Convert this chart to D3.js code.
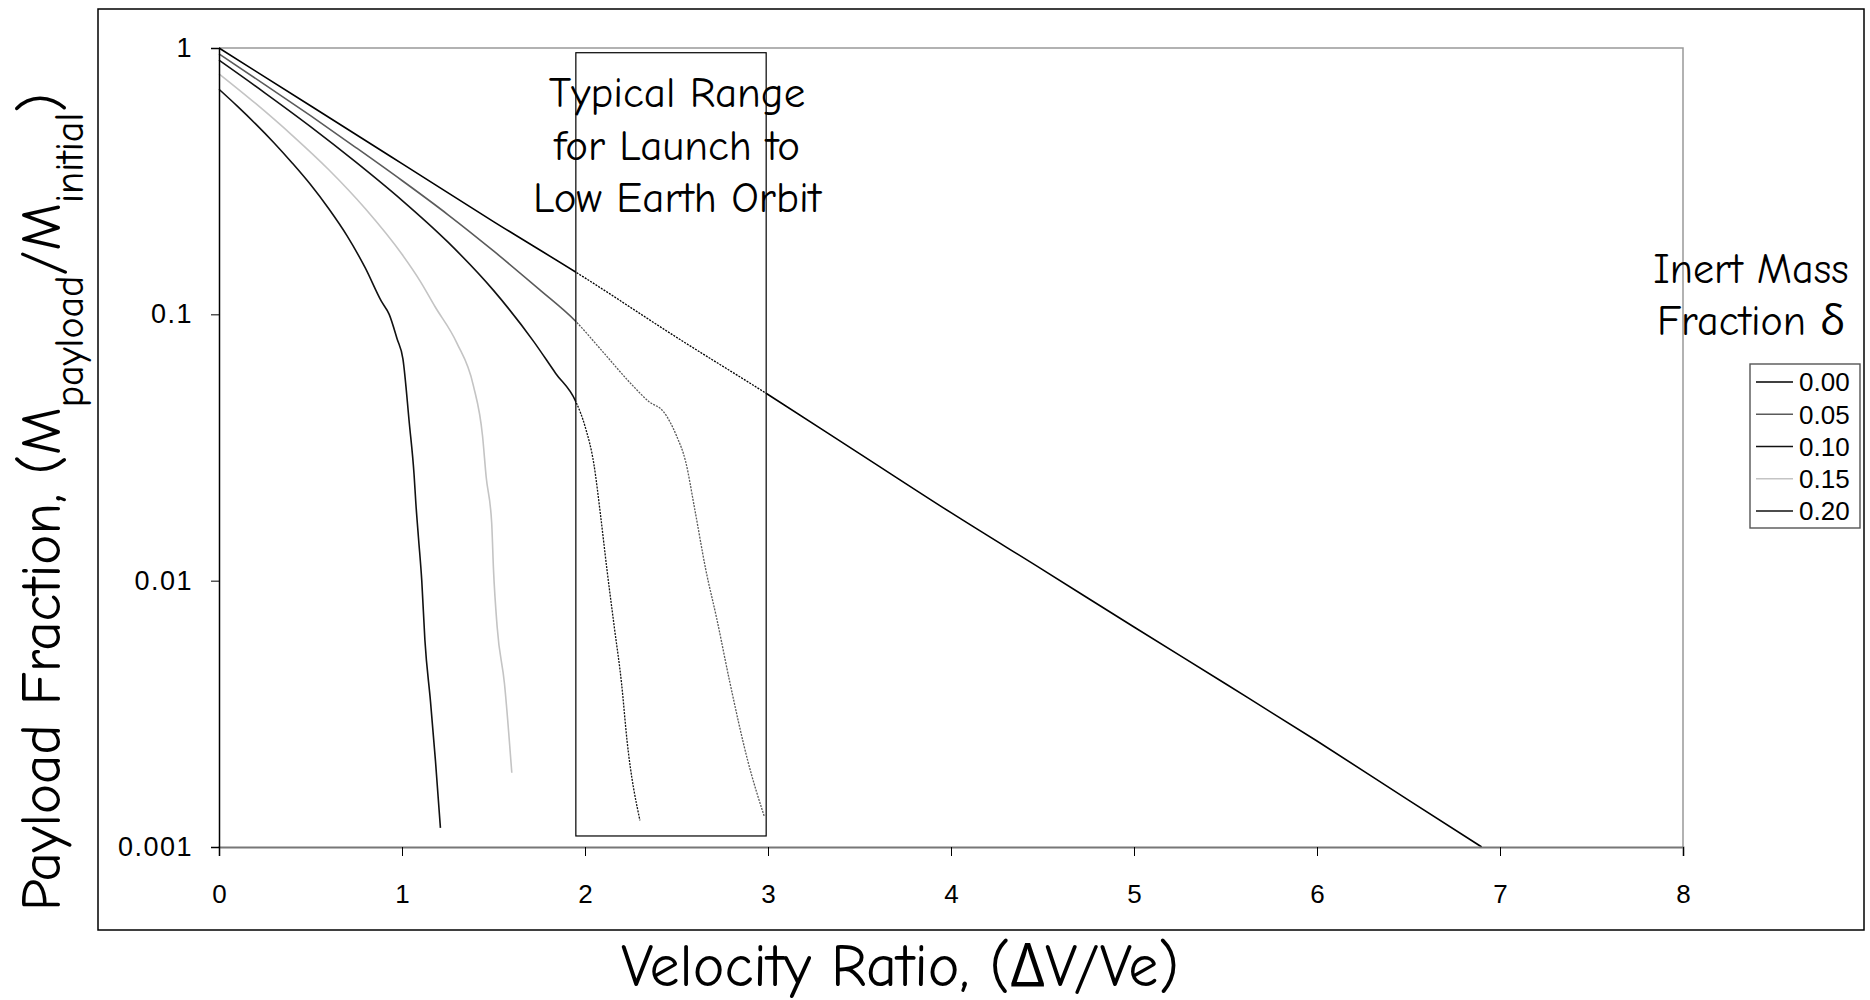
<!DOCTYPE html>
<html>
<head>
<meta charset="utf-8">
<script src="https://cdn.jsdelivr.net/npm/d3@7"></script>
<style>
  body { margin: 0; background: #fff; }
  svg { display: block; }
</style>
</head>
<body>
<svg id="chart" width="1870" height="1000"></svg>
<script>
// series: velocity ratio (x) and payload fraction (y)
const x000 = [0, 0.5, 1, 1.5, 2, 2.5, 3, 3.5, 4, 4.5, 5, 5.5, 6, 6.5, 6.9];
const y000 = [1, 0.607, 0.368, 0.223, 0.137, 0.082, 0.050, 0.030, 0.018, 0.011, 0.0067, 0.0041, 0.0025, 0.0015, 0.001];

const x005 = [0, 0.25, 0.5, 0.75, 1, 1.25, 1.5, 1.75, 1.95, 2.1, 2.25, 2.35, 2.43, 2.5, 2.55, 2.6, 2.66, 2.72, 2.79, 2.89, 2.98];
const y005 = [0.95, 0.729, 0.557, 0.422, 0.318, 0.237, 0.173, 0.124, 0.094, 0.072, 0.055, 0.047, 0.043, 0.035, 0.028, 0.0185, 0.011, 0.0072, 0.0042, 0.0021, 0.0013];

const x010 = [0, 0.25, 0.5, 0.75, 1, 1.25, 1.5, 1.72, 1.84, 1.95, 2.0, 2.05, 2.085, 2.12, 2.16, 2.2, 2.23, 2.3];
const y010 = [0.9, 0.679, 0.507, 0.372, 0.268, 0.187, 0.123, 0.079, 0.060, 0.047, 0.038, 0.027, 0.0176, 0.011, 0.0067, 0.0041, 0.0025, 0.00126];

const x015 = [0, 0.2, 0.4, 0.6, 0.8, 1.0, 1.1, 1.18, 1.3, 1.39, 1.44, 1.46, 1.49, 1.5, 1.52, 1.56, 1.6];
const y015 = [0.8, 0.619, 0.470, 0.349, 0.249, 0.168, 0.133, 0.107, 0.078, 0.054, 0.035, 0.0245, 0.0165, 0.011, 0.0067, 0.0041, 0.0019];

const x020 = [0, 0.1, 0.2, 0.3, 0.4, 0.5, 0.6, 0.7, 0.8, 0.887, 0.93, 0.973, 1.005, 1.04, 1.066, 1.076, 1.09, 1.108, 1.125, 1.156, 1.183, 1.21];
const y020 = [0.70, 0.605, 0.519, 0.441, 0.370, 0.307, 0.249, 0.197, 0.149, 0.112, 0.100, 0.081, 0.068, 0.039, 0.025, 0.0194, 0.0145, 0.010, 0.006, 0.0035, 0.0021, 0.00118];

const legendLabels = ["0.00", "0.05", "0.10", "0.15", "0.20"];
const seriesColors = ["#000", "#5a5a5a", "#111", "#c4c4c4", "#111"];
const xTicks = [0, 1, 2, 3, 4, 5, 6, 7, 8];
const yTicks = [1, 0.1, 0.01, 0.001];
const rangeBox = { x: [1.95, 2.99], y: [0.96, 0.0011] };
const boxText = ["Typical Range", "for Launch to", "Low Earth Orbit"];

const seriesX = [x000, x005, x010, x015, x020];
const seriesY = [y000, y005, y010, y015, y020];

const comic = "'Comic Sans MS', 'Comic Neue', 'Open Sans', sans-serif";
const arial = "'Liberation Sans', Arial, sans-serif";

const svg = d3.select("#chart");

// plot area
const plotL = 219, plotR = 1683, plotT = 48, plotB = 847;
const x = d3.scaleLinear().domain([0, 8]).range([plotL, plotR]);
const y = d3.scaleLog().domain([0.001, 1]).range([plotB, plotT]);

// outer frame
svg.append("rect")
  .attr("x", 98).attr("y", 9)
  .attr("width", 1864 - 98).attr("height", 930 - 9)
  .attr("fill", "none").attr("stroke", "#000").attr("stroke-width", 1.5);

// gray top and right edges of plot area
svg.append("path")
  .attr("d", `M${plotL},${plotT}H${plotR}V${plotB}`)
  .attr("fill", "none").attr("stroke", "#999").attr("stroke-width", 1.5);

// clip regions: inside the range box curves are drawn dotted
const defs = svg.append("defs");
defs.append("clipPath").attr("id", "inBox")
  .append("rect")
  .attr("x", x(rangeBox.x[0])).attr("y", 0)
  .attr("width", x(rangeBox.x[1]) - x(rangeBox.x[0])).attr("height", 1000);
const outClip = defs.append("clipPath").attr("id", "outBox");
outClip.append("rect").attr("x", 0).attr("y", 0).attr("width", x(rangeBox.x[0])).attr("height", 1000);
outClip.append("rect").attr("x", x(rangeBox.x[1])).attr("y", 0).attr("width", 1870).attr("height", 1000);

const line = d3.line().x(d => x(d[0])).y(d => y(d[1])).curve(d3.curveMonotoneX);

seriesX.forEach((xs, i) => {
  const pts = xs.map((v, j) => [v, seriesY[i][j]]);
  svg.append("path")
    .datum(pts)
    .attr("clip-path", "url(#outBox)")
    .attr("fill", "none")
    .attr("stroke", seriesColors[i])
    .attr("stroke-width", 1.6)
    .attr("d", line);
  svg.append("path")
    .datum(pts)
    .attr("clip-path", "url(#inBox)")
    .attr("fill", "none")
    .attr("stroke", seriesColors[i])
    .attr("stroke-width", 1.3)
    .attr("stroke-dasharray", "2,1.2")
    .attr("d", line);
});

// range box
svg.append("rect")
  .attr("x", x(rangeBox.x[0]))
  .attr("y", y(rangeBox.y[0]))
  .attr("width", x(rangeBox.x[1]) - x(rangeBox.x[0]))
  .attr("height", y(rangeBox.y[1]) - y(rangeBox.y[0]))
  .attr("fill", "none").attr("stroke", "#000").attr("stroke-width", 1.2);

svg.append("g").selectAll("text")
  .data(boxText)
  .join("text")
  .attr("x", 677)
  .attr("y", (d, i) => 107 + i * 52.5)
  .attr("text-anchor", "middle")
  .style("font-family", comic)
  .style("font-size", "43px")
  .text(d => d);

// axes
const xAxis = svg.append("g")
  .attr("transform", `translate(0,${plotB})`)
  .call(d3.axisBottom(x).tickValues(xTicks).tickSize(9).tickPadding(29).tickFormat(d3.format("d")));
xAxis.select(".domain").attr("stroke", "#777").attr("stroke-width", 2);
xAxis.selectAll("text").style("font-family", arial).style("font-size", "26px").attr("fill", "#000");

const yAxis = svg.append("g")
  .attr("transform", `translate(${plotL},0)`)
  .call(d3.axisLeft(y).tickValues(yTicks).tickSize(8).tickPadding(18).tickFormat(d => String(d)));
yAxis.select(".domain").attr("stroke-width", 1.5);
yAxis.selectAll("text")
  .style("font-family", arial).style("font-size", "27px")
  .style("letter-spacing", "1.5px").attr("fill", "#000");

// axis titles
svg.append("text")
  .attr("x", 900).attr("y", 986)
  .attr("text-anchor", "middle")
  .style("font-family", comic)
  .style("font-size", "60px")
  .text("Velocity Ratio, (\u0394V/Ve)");

const yTitle = svg.append("text")
  .attr("transform", "translate(60,502) rotate(-90)")
  .attr("text-anchor", "middle")
  .style("font-family", comic)
  .style("font-size", "57px");
yTitle.append("tspan").text("Payload Fraction, (M");
yTitle.append("tspan").attr("baseline-shift", "sub").style("font-size", "40px").text("payload");
yTitle.append("tspan").text("/M");
yTitle.append("tspan").attr("baseline-shift", "sub").style("font-size", "40px").text("initial");
yTitle.append("tspan").text(")");

// legend
svg.append("g").selectAll("text")
  .data(["Inert Mass", "Fraction \u03b4"])
  .join("text")
  .attr("x", 1751)
  .attr("y", (d, i) => 283 + i * 52)
  .attr("text-anchor", "middle")
  .style("font-family", comic)
  .style("font-size", "42px")
  .text(d => d);

svg.append("rect")
  .attr("x", 1750).attr("y", 364)
  .attr("width", 110).attr("height", 164)
  .attr("fill", "#fff").attr("stroke", "#555").attr("stroke-width", 1.4);

const legend = svg.append("g").selectAll("g")
  .data(legendLabels)
  .join("g")
  .attr("transform", (d, i) => `translate(1756,${382 + i * 32.25})`);
legend.append("line")
  .attr("x1", 0).attr("x2", 37)
  .attr("stroke", (d, i) => seriesColors[i])
  .attr("stroke-width", 1.5);
legend.append("text")
  .attr("x", 43).attr("dy", "0.36em")
  .style("font-family", arial)
  .style("font-size", "26px")
  .text(d => d);
</script>
</body>
</html>
